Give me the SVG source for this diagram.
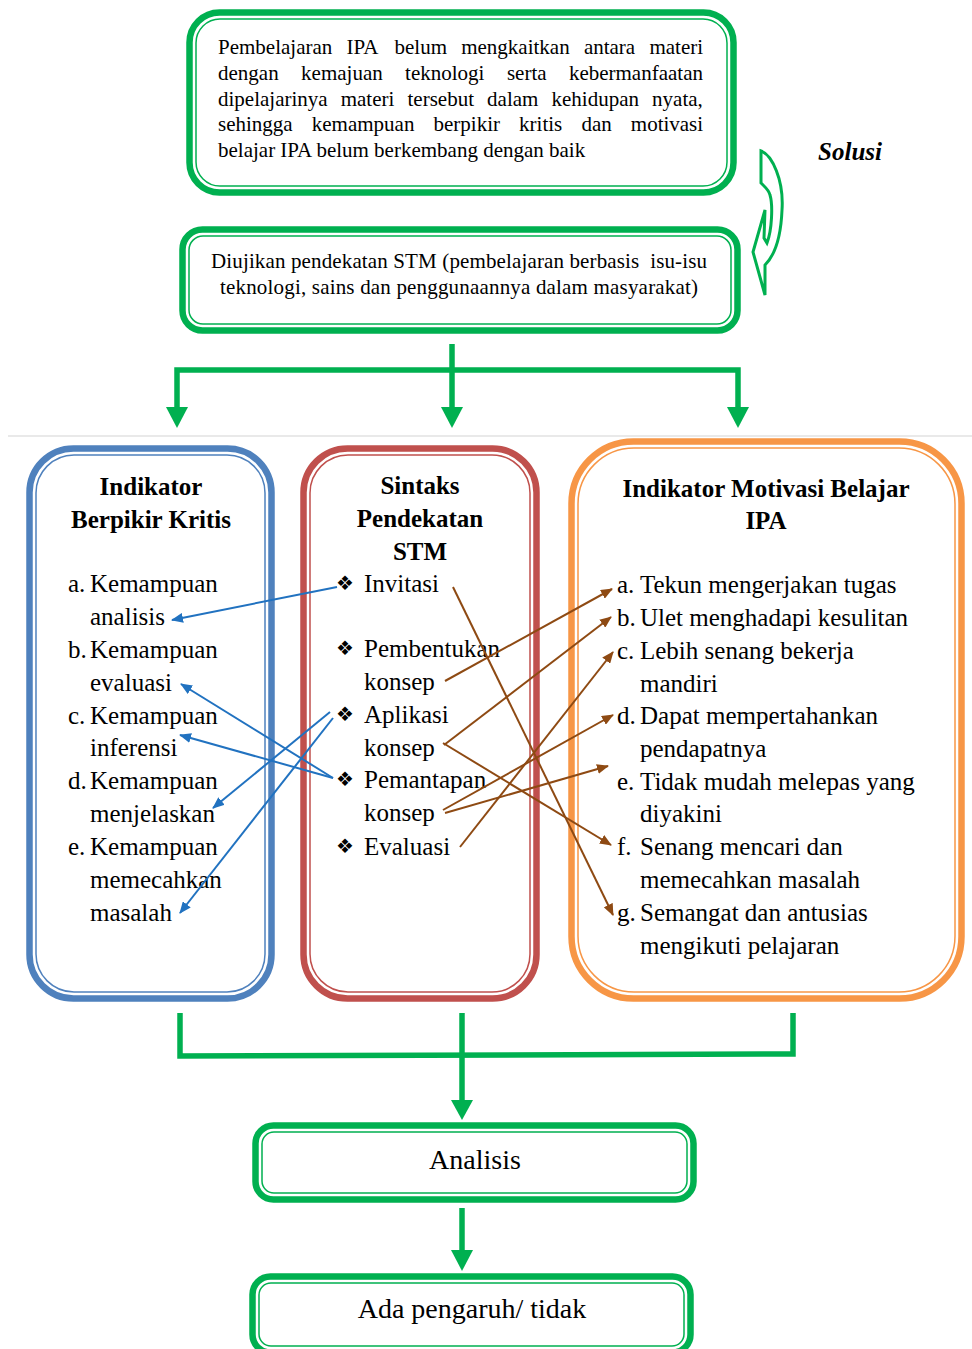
<svg xmlns="http://www.w3.org/2000/svg" width="972" height="1349" viewBox="0 0 972 1349">
<style>
.t{font-family:"Liberation Serif","Times New Roman",serif;fill:#000}
.h{font-weight:bold;text-anchor:middle}
.m{font-size:25px}
.bul{font-family:"DejaVu Sans",sans-serif;font-size:20px;fill:#000}
.gk{fill:#fff;stroke:#00B050;stroke-width:6.5}
.gn{fill:none;stroke:#00B050;stroke-width:1.5}
.gl{fill:none;stroke:#00B050;stroke-width:5.5}
.ga{fill:#00B050}
.bl{fill:none;stroke:#2172C0;stroke-width:2}
.br{fill:none;stroke:#8E4A13;stroke-width:2}
</style>
<defs>
<marker id="ab" markerUnits="userSpaceOnUse" markerWidth="12" markerHeight="10" refX="11" refY="5" orient="auto"><path d="M0,0 L12,5 L0,10 z" fill="#2172C0"/></marker>
<marker id="ar" markerUnits="userSpaceOnUse" markerWidth="12" markerHeight="10" refX="11" refY="5" orient="auto"><path d="M0,0 L12,5 L0,10 z" fill="#8E4A13"/></marker>
</defs>
<rect width="972" height="1349" fill="#fff"/>
<line x1="8" y1="436" x2="972" y2="436" stroke="#D4D4D4" stroke-width="1.2"/>

<g id="problem">
<rect class="gk" x="189.5" y="12.5" width="544" height="180" rx="30"/>
<rect class="gn" x="196" y="19" width="531" height="167" rx="24"/>
<text class="t" font-size="21" y="54"><tspan x="218">Pembelajaran</tspan><tspan x="346.5">IPA</tspan><tspan x="394.5">belum</tspan><tspan x="461.2">mengkaitkan</tspan><tspan x="583.9">antara</tspan><tspan x="649.4">materi</tspan></text>
<text class="t" font-size="21" y="80"><tspan x="218">dengan</tspan><tspan x="301.1">kemajuan</tspan><tspan x="405.1">teknologi</tspan><tspan x="506.9">serta</tspan><tspan x="568.9">kebermanfaatan</tspan></text>
<text class="t" font-size="21" y="105.5"><tspan x="218">dipelajarinya</tspan><tspan x="340.7">materi</tspan><tspan x="407.5">tersebut</tspan><tspan x="487.1">dalam</tspan><tspan x="551.5">kehidupan</tspan><tspan x="652.1">nyata,</tspan></text>
<text class="t" font-size="21" y="131"><tspan x="218">sehingga</tspan><tspan x="311.8">kemampuan</tspan><tspan x="433.5">berpikir</tspan><tspan x="519.1">kritis</tspan><tspan x="581.4">dan</tspan><tspan x="630.8">motivasi</tspan></text>
<text class="t" font-size="21" x="218" y="157">belajar IPA belum berkembang dengan baik</text>
</g>

<g id="solusi">
<path d="M761,151 C772,155 784,180 782,210 C781,235 775,255 765,265 L765,295 L753,252 L765,210 L764,238 L767,243 C772,230 773,205 770,195 C769,190 765,187 761,183 Z" fill="#fff" stroke="#00B050" stroke-width="3" stroke-linejoin="miter"/>
<text class="t" x="850" y="160" font-size="25" font-weight="bold" font-style="italic" text-anchor="middle">Solusi</text>
</g>

<g id="stm">
<rect class="gk" x="182.5" y="229.5" width="555" height="101" rx="20"/>
<rect class="gn" x="189" y="236" width="542" height="88" rx="14"/>
<text class="t" font-size="21" x="459" y="268" text-anchor="middle" textLength="496" lengthAdjust="spacing" xml:space="preserve">Diujikan pendekatan STM (pembelajaran berbasis  isu-isu</text>
<text class="t" font-size="21" x="459" y="294" text-anchor="middle" textLength="478" lengthAdjust="spacing">teknologi, sains dan penggunaannya dalam masyarakat)</text>
</g>

<g id="kritis">
<rect x="29.5" y="448.5" width="242" height="550" rx="44" fill="#fff" stroke="#4F81BD" stroke-width="6.5"/>
<rect x="36" y="455" width="229" height="537" rx="38" fill="none" stroke="#4F81BD" stroke-width="1.5"/>
<text class="t h m" x="151" y="495">Indikator</text>
<text class="t h m" x="151" y="528">Berpikir Kritis</text>
<g class="t m">
<text x="68" y="592">a.</text><text x="90" y="592">Kemampuan</text>
<text x="90" y="625">analisis</text>
<text x="68" y="658">b.</text><text x="90" y="658">Kemampuan</text>
<text x="90" y="691">evaluasi</text>
<text x="68" y="724">c.</text><text x="90" y="724">Kemampuan</text>
<text x="90" y="756">inferensi</text>
<text x="68" y="789">d.</text><text x="90" y="789">Kemampuan</text>
<text x="90" y="822">menjelaskan</text>
<text x="68" y="855">e.</text><text x="90" y="855">Kemampuan</text>
<text x="90" y="888">memecahkan</text>
<text x="90" y="921">masalah</text>
</g>
</g>

<g id="sintaks">
<rect x="303.5" y="448.5" width="233" height="550" rx="44" fill="#fff" stroke="#C0504D" stroke-width="6.5"/>
<rect x="310" y="455" width="220" height="537" rx="38" fill="none" stroke="#C0504D" stroke-width="1.5"/>
<text class="t h m" x="420" y="494">Sintaks</text>
<text class="t h m" x="420" y="527">Pendekatan</text>
<text class="t h m" x="420" y="560">STM</text>
<g class="bul">
<text x="336" y="590">❖</text>
<text x="336" y="655">❖</text>
<text x="336" y="721">❖</text>
<text x="336" y="786">❖</text>
<text x="336" y="853">❖</text>
</g>
<g class="t m">
<text x="364" y="592">Invitasi</text>
<text x="364" y="657">Pembentukan</text>
<text x="364" y="690">konsep</text>
<text x="364" y="723">Aplikasi</text>
<text x="364" y="756">konsep</text>
<text x="364" y="788">Pemantapan</text>
<text x="364" y="821">konsep</text>
<text x="364" y="855">Evaluasi</text>
</g>
</g>

<g id="motivasi">
<rect x="571.5" y="441.5" width="390" height="557" rx="62" fill="#fff" stroke="#F79646" stroke-width="6.5"/>
<rect x="578" y="448" width="377" height="544" rx="56" fill="none" stroke="#F79646" stroke-width="1.5"/>
<text class="t h m" x="766" y="497">Indikator Motivasi Belajar</text>
<text class="t h m" x="766" y="529">IPA</text>
<g class="t m">
<text x="617" y="593">a.</text><text x="640" y="593">Tekun mengerjakan tugas</text>
<text x="617" y="626">b.</text><text x="640" y="626">Ulet menghadapi kesulitan</text>
<text x="617" y="659">c.</text><text x="640" y="659">Lebih senang bekerja</text>
<text x="640" y="692">mandiri</text>
<text x="617" y="724">d.</text><text x="640" y="724">Dapat mempertahankan</text>
<text x="640" y="757">pendapatnya</text>
<text x="617" y="790">e.</text><text x="640" y="790">Tidak mudah melepas yang</text>
<text x="640" y="822">diyakini</text>
<text x="617" y="855">f.</text><text x="640" y="855">Senang mencari dan</text>
<text x="640" y="888">memecahkan masalah</text>
<text x="617" y="921">g.</text><text x="640" y="921">Semangat dan antusias</text>
<text x="640" y="954">mengikuti pelajaran</text>
</g>
</g>

<g id="analisis">
<rect class="gk" x="255.5" y="1125.5" width="438" height="74" rx="18"/>
<rect class="gn" x="262" y="1132" width="425" height="61" rx="12"/>
<text class="t" font-size="28" x="475" y="1169" text-anchor="middle">Analisis</text>
</g>

<g id="hasil">
<rect class="gk" x="252.5" y="1276.5" width="438" height="76" rx="18"/>
<rect class="gn" x="259" y="1283" width="425" height="63" rx="12"/>
<text class="t" font-size="28" x="472" y="1318" text-anchor="middle">Ada pengaruh/ tidak</text>
</g>

<g id="connectors">
<polyline class="gl" points="452,344 452,370"/>
<polyline class="gl" points="177,409 177,370 738,370 738,409"/>
<line class="gl" x1="452" y1="370" x2="452" y2="409"/>
<path class="ga" d="M166,407 L188,407 L177,428 Z"/>
<path class="ga" d="M441,407 L463,407 L452,428 Z"/>
<path class="ga" d="M727,407 L749,407 L738,428 Z"/>

<polyline class="gl" points="180,1013 180,1056 793,1054 793,1013"/>
<line class="gl" x1="462" y1="1013" x2="462" y2="1102"/>
<path class="ga" d="M451,1100 L473,1100 L462,1120 Z"/>
<line class="gl" x1="462" y1="1208" x2="462" y2="1252"/>
<path class="ga" d="M451,1250 L473,1250 L462,1271 Z"/>

<line class="bl" x1="337" y1="587" x2="172" y2="620" marker-end="url(#ab)"/>
<line class="bl" x1="333" y1="778" x2="181" y2="684" marker-end="url(#ab)"/>
<line class="bl" x1="333" y1="778" x2="180" y2="735" marker-end="url(#ab)"/>
<line class="bl" x1="330" y1="712" x2="213" y2="808" marker-end="url(#ab)"/>
<line class="bl" x1="333" y1="718" x2="180" y2="913" marker-end="url(#ab)"/>

<line class="br" x1="453" y1="587" x2="613" y2="915" marker-end="url(#ar)"/>
<line class="br" x1="445" y1="681" x2="612" y2="589" marker-end="url(#ar)"/>
<line class="br" x1="444" y1="745" x2="611" y2="617" marker-end="url(#ar)"/>
<line class="br" x1="443" y1="743" x2="611" y2="845" marker-end="url(#ar)"/>
<line class="br" x1="443" y1="810" x2="613" y2="715" marker-end="url(#ar)"/>
<line class="br" x1="445" y1="813" x2="608" y2="766" marker-end="url(#ar)"/>
<line class="br" x1="460" y1="847" x2="613" y2="652" marker-end="url(#ar)"/>
</g>
</svg>
